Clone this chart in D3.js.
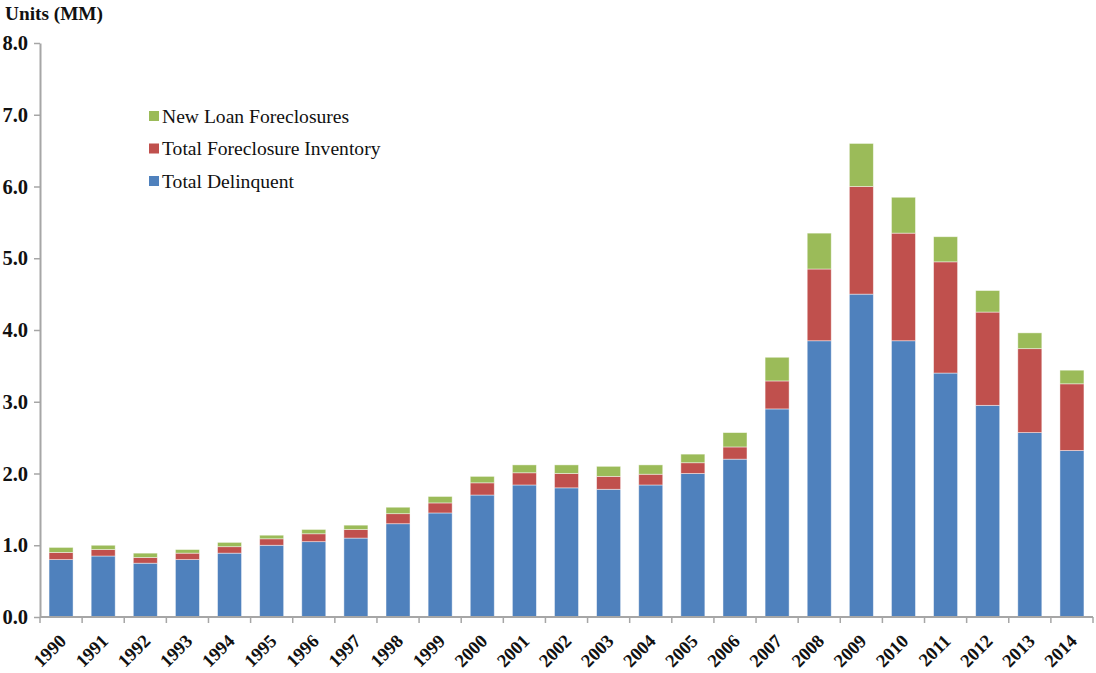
<!DOCTYPE html>
<html><head><meta charset="utf-8">
<script src="https://cdn.jsdelivr.net/npm/d3@7"></script>
<style>body{margin:0;background:#fff}svg{display:block}</style>
</head><body>
<svg id="c" width="1096" height="673"></svg>
<script>
const years = ["1990","1991","1992","1993","1994","1995","1996","1997","1998","1999","2000","2001","2002","2003","2004","2005","2006","2007","2008","2009","2010","2011","2012","2013","2014"];
const totalDelinquent = [0.80,0.85,0.75,0.80,0.89,1.00,1.05,1.10,1.30,1.45,1.70,1.84,1.80,1.78,1.84,2.00,2.20,2.90,3.85,4.50,3.85,3.40,2.95,2.57,2.32];
const foreclosureInventory = [0.10,0.09,0.08,0.09,0.09,0.09,0.11,0.12,0.14,0.14,0.17,0.17,0.20,0.18,0.15,0.15,0.17,0.39,1.00,1.50,1.50,1.55,1.30,1.17,0.93];
const newLoanForeclosures = [0.07,0.06,0.06,0.05,0.06,0.05,0.06,0.06,0.09,0.09,0.09,0.11,0.12,0.14,0.13,0.12,0.20,0.33,0.50,0.60,0.50,0.35,0.30,0.22,0.19];
const yTicks = [0,1,2,3,4,5,6,7,8];
const seriesNames = ["Total Delinquent","Total Foreclosure Inventory","New Loan Foreclosures"];
const seriesColors = ["#4F81BD","#C0504D","#9BBB59"];

const svg = d3.select("#c");
const mLeft = 40, mRight = 1093, mTop = 43, mBottom = 617;
const x = d3.scaleBand().domain(years).range([mLeft, mRight]).paddingInner(0.43).paddingOuter(0.215);
const y = d3.scaleLinear().domain([0, 8]).range([mBottom, mTop]);

const rows = years.map((yr, i) => ({year: yr, s0: totalDelinquent[i], s1: foreclosureInventory[i], s2: newLoanForeclosures[i]}));
const stack = d3.stack().keys(["s0","s1","s2"]);
const layers = stack(rows);

const serif = "'Liberation Serif','Times New Roman',serif";
const axisColor = "#a6a6a6";

svg.selectAll("g.layer").data(layers).join("g").attr("class","layer")
  .attr("fill", (d,i) => seriesColors[i])
  .selectAll("rect").data(d => d).join("rect")
  .attr("x", d => x(d.data.year))
  .attr("width", x.bandwidth())
  .attr("y", d => y(d[1]))
  .attr("height", d => y(d[0]) - y(d[1]))
  .attr("stroke", "rgba(255,255,255,0.55)").attr("stroke-width", 0.8);

// y axis
const yAxis = svg.append("g").attr("transform", `translate(${mLeft},0)`)
  .call(d3.axisLeft(y).tickValues(yTicks).tickFormat(d3.format(".1f")).tickSize(6).tickSizeOuter(0));
yAxis.select(".domain").attr("stroke", axisColor).attr("stroke-width", 2);
yAxis.selectAll(".tick line").attr("stroke", axisColor).attr("stroke-width", 1.5);
yAxis.selectAll(".tick text").attr("x", -12).attr("font-family", serif).attr("font-weight", "bold")
  .attr("font-size", 20.5).attr("fill", "#111");

// x axis
const xAxisG = svg.append("g").attr("transform", `translate(0,${mBottom})`);
xAxisG.append("line").attr("x1", mLeft).attr("x2", mRight).attr("y1", 0).attr("y2", 0)
  .attr("stroke", axisColor).attr("stroke-width", 2);
const bounds = years.map(yr => x(yr) - x.step()*x.paddingInner()/2).concat([mRight]);
xAxisG.selectAll("line.tk").data(bounds).join("line").attr("class","tk")
  .attr("x1", d => d).attr("x2", d => d).attr("y1", 0).attr("y2", 6)
  .attr("stroke", axisColor).attr("stroke-width", 1.5);
xAxisG.selectAll("text").data(years).join("text")
  .attr("transform", d => `translate(${x(d) + x.bandwidth()/2 - 3},${16}) rotate(-45)`)
  .attr("text-anchor", "end").attr("dy", "0.7em")
  .attr("font-family", serif).attr("font-weight", "bold").attr("font-size", 18.5).attr("fill", "#111")
  .text(d => d);

// title
svg.append("text").attr("x", 5).attr("y", 20).attr("font-family", serif).attr("font-weight", "bold")
  .attr("font-size", 19.3).attr("fill", "#111").text("Units (MM)");

// legend
const legendOrder = [2,1,0];
const lg = svg.append("g");
legendOrder.forEach((si, k) => {
  const yy = 116 + k*32.5;
  lg.append("rect").attr("x", 149).attr("y", yy - 5).attr("width", 10).attr("height", 10).attr("fill", seriesColors[si]);
  lg.append("text").attr("x", 162).attr("y", yy).attr("dy", "0.35em")
    .attr("font-family", serif).attr("font-size", 19.6).attr("fill", "#111").text(seriesNames[si]);
});
</script>
</body></html>
